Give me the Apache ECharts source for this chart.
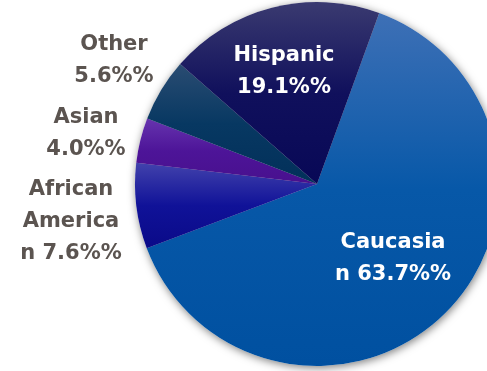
<!DOCTYPE html>
<html>
<head>
<meta charset="utf-8">
<script src="https://cdn.jsdelivr.net/npm/echarts@6/dist/echarts.min.js"></script>
<style>html,body{margin:0;padding:0;background:#fff;}#c{width:487px;height:371px;}</style>
</head>
<body>
<div id="c"></div>
<script>
const categories = ['Caucasian', 'African American', 'Asian', 'Other', 'Hispanic'];
const values = [63.7, 7.6, 4.0, 5.6, 19.1];
const labelTexts = ['Caucasia\nn 63.7%%', 'African\nAmerica\nn 7.6%%', 'Asian\n4.0%%', 'Other\n5.6%%', 'Hispanic\n19.1%%'];

const sliceColors = [
  ['#3e70b6', '#0758a8', '#0050a0'],
  ['#4242ac', '#101298', '#0a0a88'],
  ['#6634ae', '#4d1498', '#48108e'],
  ['#2a4c72', '#073862', '#02305a'],
  ['#3a3a70', '#10105c', '#080856']
];
const labelPos = [
  {x: 393, y: 259, color: '#ffffff'},
  {x: 71, y: 222, color: '#5b5450'},
  {x: 86, y: 134, color: '#5b5450'},
  {x: 114, y: 61, color: '#5b5450'},
  {x: 284, y: 72, color: '#ffffff'}
];

const chart = echarts.init(document.getElementById('c'), null, {renderer: 'canvas'});
const common = {
  type: 'pie',
  center: [317, 184],
  radius: [0, 182],
  startAngle: 70,
  clockwise: true,
  avoidLabelOverlap: false
};
chart.setOption({
  animation: false,
  series: [
    Object.assign({}, common, {
      silent: true,
      z: 1,
      label: {show: false},
      labelLine: {show: false},
      itemStyle: {
        color: '#ffffff',
        borderWidth: 0,
        shadowBlur: 9,
        shadowColor: 'rgba(0,0,0,0.5)',
        shadowOffsetX: 1,
        shadowOffsetY: 2
      },
      data: categories.map((name, i) => ({name: name, value: values[i]}))
    }),
    Object.assign({}, common, {
      z: 2,
      itemStyle: {borderWidth: 0},
      label: {
        show: true,
        position: 'outside',
        fontFamily: 'DejaVu Sans',
        fontWeight: 'bold',
        fontSize: 21,
        lineHeight: 32,
        align: 'center'
      },
      labelLine: {show: false},
      labelLayout: function (p) {
        const lp = labelPos[p.dataIndex];
        return {x: lp.x, y: lp.y, align: 'center', verticalAlign: 'middle'};
      },
      data: categories.map((name, i) => ({
        name: name,
        value: values[i],
        label: {
          formatter: labelTexts[i],
          color: labelPos[i].color
        },
        itemStyle: {
          color: new echarts.graphic.LinearGradient(0, 0, 0, 1, [
            {offset: 0, color: sliceColors[i][0]},
            {offset: 0.5, color: sliceColors[i][1]},
            {offset: 1, color: sliceColors[i][2]}
          ])
        }
      }))
    })
  ]
});
</script>
</body>
</html>
